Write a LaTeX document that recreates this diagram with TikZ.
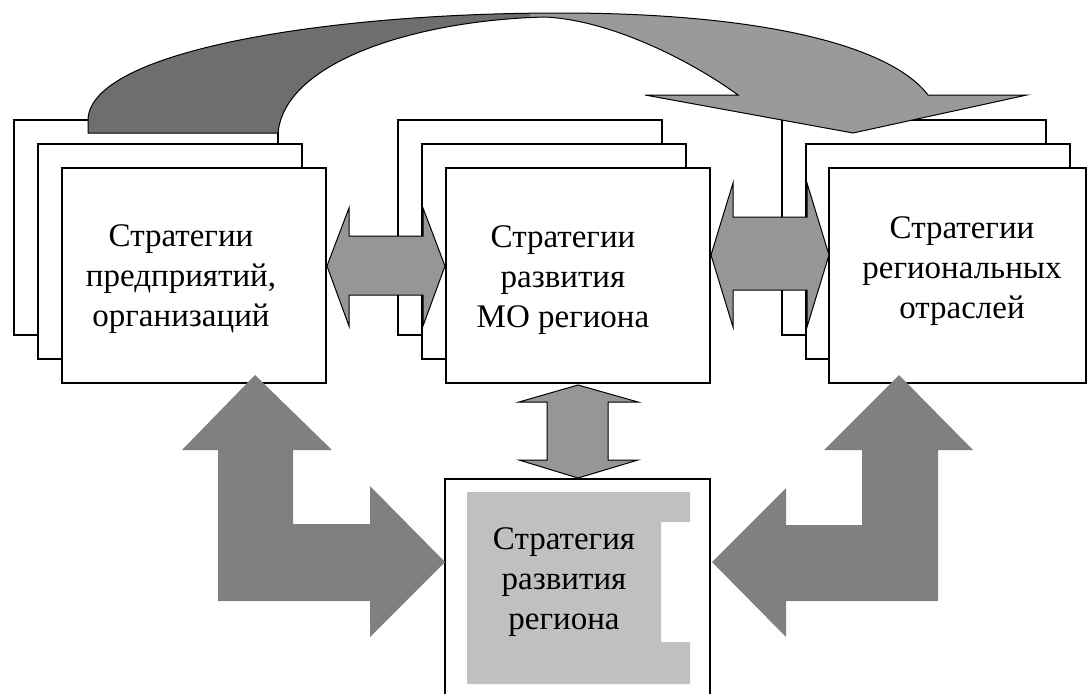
\documentclass[tikz,border=0pt]{standalone}
\usepackage{fontspec}
\setmainfont{Liberation Serif}
\usetikzlibrary{positioning}
\definecolor{arcdark}{HTML}{6E6E6E}
\definecolor{arclight}{HTML}{9A9A9A}
\definecolor{dblgray}{HTML}{969696}
\definecolor{elbowgray}{HTML}{808080}
\definecolor{coregray}{HTML}{C0C0C0}

\begin{document}
\begin{tikzpicture}[x=1pt, y=-1pt,
		card/.style={draw, fill=white, line width=1.5pt, minimum width=264pt, minimum height=215pt, inner sep=0pt},
		lbl/.style={align=center, font=\fontsize{33}{40}\selectfont, inner sep=0pt},
		dbl/.style={fill=dblgray, draw=black, line width=1pt},
		elbow/.style={fill=elbowgray}]
		\useasboundingbox (0,0) rectangle (1088,694);

		% stacks
		\node[card] (L1) at (146,227.5) {};
		\node[card] (L2) at (170,251.5) {};
		\node[card] (L3) at (194,275.5) {};
		\node[card] (M1) at (530,227.5) {};
		\node[card] (M2) at (554,251.5) {};
		\node[card] (M3) at (578,275.5) {};
		\node[card] (R1) at (914,227.5) {};
		\node[card] (R2) at (938,251.5) {};
		\node[card, minimum width=257pt] (R3) at (957.5,275.5) {};

		% region box
		\draw[line width=1.5pt] (445,694) -- (445,479) -- (710,479) -- (710,694);
		\fill[coregray] (467,492) -- (690,492) -- (690,522) -- (661,522) -- (661,642) -- (690,642) -- (690,684) -- (467,684) -- cycle;

		% bent arrow on top
		\fill[arclight] (88,133) -- (88,119) .. controls (92,50) and (330,13) .. (560,13) .. controls (760,13) and (890,45) .. (928,95) -- (1027,95) -- (853,133) -- (645,95) -- (738,95) .. controls (690,60) and (610,20) .. (545,17) .. controls (420,20) and (285,60) .. (278,133) -- cycle;
		\begin{scope}
			\clip (0,0) rectangle (530,140);
			\fill[arcdark] (88,133) -- (88,119) .. controls (92,50) and (330,13) .. (560,13) .. controls (760,13) and (890,45) .. (928,95) -- (1027,95) -- (853,133) -- (645,95) -- (738,95) .. controls (690,60) and (610,20) .. (545,17) .. controls (420,20) and (285,60) .. (278,133) -- cycle;
		\end{scope}
		\draw[line width=1pt] (88,133) -- (88,119) .. controls (92,50) and (330,13) .. (560,13) .. controls (760,13) and (890,45) .. (928,95) -- (1027,95) -- (853,133) -- (645,95) -- (738,95) .. controls (690,60) and (610,20) .. (545,17) .. controls (420,20) and (285,60) .. (278,133) -- cycle;

		% double arrows
		\draw[dbl] (327,266) -- (349,208) -- (349,236) -- (423,236) -- (423,208) -- (445,266) -- (423,326) -- (423,295) -- (349,295) -- (349,326) -- cycle;
		\draw[dbl] (711,255) -- (733,183) -- (733,217) -- (807,217) -- (807,183) -- (829,255) -- (807,327) -- (807,290) -- (733,290) -- (733,327) -- cycle;
		\draw[dbl] (578,385) -- (638,402) -- (608,402) -- (608,460) -- (638,460) -- (578,478) -- (519,460) -- (547,460) -- (547,402) -- (519,402) -- cycle;

		% elbow arrows
		\fill[elbow] (255,375) -- (332,450) -- (293,450) -- (293,524) -- (370,524) -- (370,486) -- (445,562) -- (370,637) -- (370,601) -- (218,601) -- (218,450) -- (182,450) -- cycle;
		\fill[elbow] (899,375) -- (973,450) -- (938,450) -- (938,601) -- (786,601) -- (786,637) -- (712,562) -- (786,488) -- (786,525) -- (862,525) -- (862,450) -- (824,450) -- cycle;

		% texts
		\node[lbl] (L_label) at (181,279) {Стратегии\\предприятий,\\организаций};
		\node[lbl] (M_label) at (563,280) {Стратегии\\развития\\МО региона};
		\node[lbl] (R_label) at (962,271) {Стратегии\\региональных\\отраслей};
		\node[lbl] (B_label) at (564,582) {Стратегия\\развития\\региона};
	\end{tikzpicture}
\end{document}
